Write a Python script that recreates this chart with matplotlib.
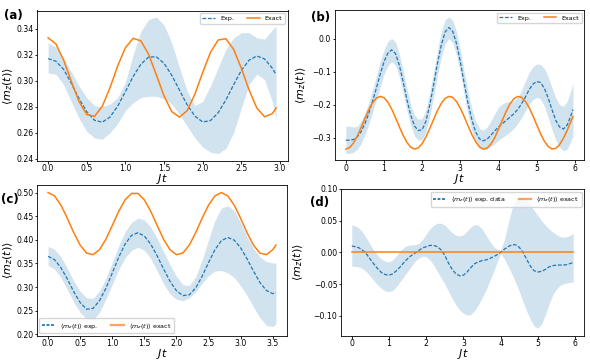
import numpy as np
import matplotlib
matplotlib.use("Agg")
import matplotlib.pyplot as plt

# ---------------- panel (a) ----------------
t_a = [0.0, 0.1, 0.2, 0.3, 0.4, 0.5, 0.6, 0.7, 0.8, 0.9, 1.0, 1.1, 1.2, 1.3, 1.4,
       1.5, 1.6, 1.7, 1.8, 1.9, 2.0, 2.1, 2.2, 2.3, 2.4, 2.5, 2.6, 2.7, 2.8, 2.9, 2.95]
exact_a = [0.3330, 0.3284, 0.3160, 0.2995, 0.2840, 0.2740, 0.2726, 0.2802, 0.2945, 0.3113,
           0.3254, 0.3326, 0.3307, 0.3204, 0.3046, 0.2883, 0.2762, 0.2720, 0.2770, 0.2898,
           0.3063, 0.3217, 0.3313, 0.3323, 0.3242, 0.3096, 0.2929, 0.2791, 0.2723, 0.2746, 0.2791]
exp_a = [0.3170, 0.3150, 0.3088, 0.2981, 0.2863, 0.2762, 0.2696, 0.2681, 0.2720, 0.2804,
         0.2916, 0.3032, 0.3127, 0.3182, 0.3184, 0.3134, 0.3042, 0.2927, 0.2814, 0.2727,
         0.2683, 0.2693, 0.2753, 0.2852, 0.2969, 0.3079, 0.3158, 0.3190, 0.3168, 0.3097, 0.3047]
up_a = [0.329, 0.326, 0.317, 0.307, 0.296, 0.287, 0.281, 0.280, 0.282, 0.287,
        0.299, 0.320, 0.338, 0.347, 0.349, 0.343, 0.329, 0.310, 0.292, 0.281,
        0.284, 0.296, 0.310, 0.324, 0.333, 0.337, 0.337, 0.333, 0.332, 0.339, 0.342]
low_a = [0.306, 0.305, 0.297, 0.284, 0.271, 0.261, 0.256, 0.255, 0.260, 0.267,
         0.277, 0.283, 0.287, 0.288, 0.288, 0.286, 0.282, 0.274, 0.265, 0.256,
         0.249, 0.245, 0.244, 0.248, 0.260, 0.279, 0.297, 0.305, 0.301, 0.284, 0.271]

# ---------------- panel (b) ----------------
t_b = [0.0, 0.1, 0.2, 0.3, 0.4, 0.5, 0.6, 0.7, 0.8, 0.9, 1.0, 1.1, 1.2, 1.3, 1.4,
       1.5, 1.6, 1.7, 1.8, 1.9, 2.0, 2.1, 2.2, 2.3, 2.4, 2.5, 2.6, 2.7, 2.8, 2.9,
       3.0, 3.1, 3.2, 3.3, 3.4, 3.5, 3.6, 3.7, 3.8, 3.9, 4.0, 4.1, 4.2, 4.3, 4.4,
       4.5, 4.6, 4.7, 4.8, 4.9, 5.0, 5.1, 5.2, 5.3, 5.4, 5.5, 5.6, 5.7, 5.8, 5.9, 5.95]
exact_b = [-0.3350, -0.3302, -0.3165, -0.2954, -0.2695, -0.2419, -0.2158, -0.1944, -0.1803, -0.1750,
           -0.1793, -0.1927, -0.2134, -0.2392, -0.2668, -0.2930, -0.3147, -0.3292, -0.3349, -0.3312,
           -0.3182, -0.2977, -0.2722, -0.2446, -0.2182, -0.1963, -0.1813, -0.1751, -0.1784, -0.1909,
           -0.2111, -0.2364, -0.2640, -0.2905, -0.3128, -0.3282, -0.3348, -0.3320, -0.3199, -0.3001,
           -0.2749, -0.2473, -0.2207, -0.1982, -0.1824, -0.1753, -0.1777, -0.1893, -0.2088, -0.2338,
           -0.2612, -0.2880, -0.3108, -0.3270, -0.3346, -0.3327, -0.3215, -0.3024, -0.2776, -0.2501, -0.2364]
exp_b = [-0.308, -0.308, -0.306, -0.298, -0.282, -0.258, -0.227, -0.190, -0.150, -0.108,
         -0.070, -0.044, -0.034, -0.045, -0.080, -0.130, -0.185, -0.232, -0.265, -0.279,
         -0.276, -0.250, -0.200, -0.140, -0.075, -0.020, 0.020, 0.034, 0.022, -0.015,
         -0.070, -0.135, -0.195, -0.245, -0.283, -0.304, -0.310, -0.305, -0.293, -0.280,
         -0.268, -0.258, -0.248, -0.238, -0.228, -0.215, -0.198, -0.178, -0.155, -0.138,
         -0.130, -0.133, -0.150, -0.180, -0.215, -0.248, -0.268, -0.274, -0.262, -0.232, -0.215]
up_b = [-0.265, -0.266, -0.268, -0.266, -0.250, -0.226, -0.195, -0.155, -0.113, -0.070,
        -0.034, -0.008, 0.001, -0.010, -0.046, -0.096, -0.152, -0.200, -0.232, -0.245,
        -0.242, -0.215, -0.162, -0.100, -0.035, 0.020, 0.058, 0.066, 0.056, 0.020,
        -0.035, -0.100, -0.160, -0.212, -0.250, -0.272, -0.278, -0.268, -0.250, -0.228,
        -0.208, -0.198, -0.192, -0.190, -0.188, -0.178, -0.158, -0.130, -0.103, -0.085,
        -0.077, -0.078, -0.090, -0.115, -0.148, -0.180, -0.200, -0.205, -0.190, -0.155, -0.135]
low_b = [-0.348, -0.348, -0.345, -0.335, -0.318, -0.292, -0.260, -0.224, -0.186, -0.146,
         -0.108, -0.082, -0.070, -0.080, -0.115, -0.165, -0.218, -0.264, -0.296, -0.308,
         -0.306, -0.283, -0.235, -0.176, -0.112, -0.056, -0.015, 0.000, -0.012, -0.050,
         -0.105, -0.170, -0.230, -0.280, -0.315, -0.333, -0.338, -0.335, -0.328, -0.318,
         -0.308, -0.300, -0.292, -0.283, -0.272, -0.258, -0.240, -0.220, -0.200, -0.185,
         -0.178, -0.183, -0.205, -0.240, -0.275, -0.308, -0.330, -0.340, -0.335, -0.310, -0.295]

# ---------------- panel (c) ----------------
t_c = [0.0, 0.1, 0.2, 0.3, 0.4, 0.5, 0.6, 0.7, 0.8, 0.9, 1.0, 1.1, 1.2, 1.3, 1.4,
       1.5, 1.6, 1.7, 1.8, 1.9, 2.0, 2.1, 2.2, 2.3, 2.4, 2.5, 2.6, 2.7, 2.8, 2.9,
       3.0, 3.1, 3.2, 3.3, 3.4, 3.5, 3.55]
exact_c = [0.5000, 0.4930, 0.4734, 0.4455, 0.4151, 0.3887, 0.3720, 0.3685, 0.3789, 0.4010,
           0.4302, 0.4601, 0.4846, 0.4982, 0.4982, 0.4846, 0.4601, 0.4302, 0.4010, 0.3789,
           0.3685, 0.3720, 0.3887, 0.4151, 0.4455, 0.4734, 0.4930, 0.5000, 0.4930, 0.4734,
           0.4455, 0.4151, 0.3887, 0.3720, 0.3685, 0.3789, 0.3888]
exp_c = [0.365, 0.358, 0.341, 0.317, 0.290, 0.267, 0.253, 0.2548, 0.2708, 0.2972,
         0.3298, 0.3629, 0.3911, 0.4094, 0.4150, 0.4080, 0.3907, 0.3660, 0.3382, 0.3121,
         0.2922, 0.2819, 0.2835, 0.2981, 0.3227, 0.3518, 0.3790, 0.3981, 0.4050, 0.3993,
         0.3831, 0.3598, 0.3337, 0.3098, 0.2929, 0.2860, 0.2880]
up_c = [0.386, 0.380, 0.364, 0.340, 0.313, 0.291, 0.277, 0.276, 0.291, 0.318,
        0.352, 0.387, 0.417, 0.437, 0.446, 0.442, 0.427, 0.403, 0.375, 0.347,
        0.323, 0.305, 0.303, 0.322, 0.357, 0.400, 0.441, 0.467, 0.472, 0.462,
        0.437, 0.407, 0.382, 0.364, 0.354, 0.351, 0.351]
low_c = [0.346, 0.338, 0.320, 0.295, 0.268, 0.246, 0.232, 0.230, 0.246, 0.274,
         0.306, 0.337, 0.362, 0.378, 0.384, 0.378, 0.360, 0.334, 0.307, 0.285,
         0.274, 0.271, 0.277, 0.290, 0.308, 0.324, 0.334, 0.335, 0.330, 0.320,
         0.303, 0.282, 0.258, 0.235, 0.219, 0.216, 0.222]

# ---------------- panel (d) ----------------
t_d = t_b
exact_d = [0.0] * len(t_d)
exp_d = [0.010, 0.009, 0.007, 0.003, -0.003, -0.011, -0.019, -0.026, -0.032, -0.035,
         -0.036, -0.034, -0.029, -0.023, -0.016, -0.010, -0.005, -0.001, 0.003, 0.007,
         0.009, 0.011, 0.011, 0.009, 0.004, -0.005, -0.017, -0.027, -0.034, -0.037,
         -0.036, -0.031, -0.024, -0.018, -0.015, -0.013, -0.012, -0.010, -0.007, -0.004,
         0.000, 0.005, 0.009, 0.012, 0.012, 0.008, 0.000, -0.011, -0.022, -0.029,
         -0.031, -0.030, -0.027, -0.023, -0.021, -0.020, -0.020, -0.020, -0.019, -0.017, -0.016]
up_d = [0.043, 0.042, 0.038, 0.031, 0.022, 0.012, 0.003, -0.005, -0.011, -0.014,
        -0.015, -0.012, -0.005, 0.002, 0.008, 0.011, 0.012, 0.012, 0.014, 0.020,
        0.029, 0.037, 0.043, 0.046, 0.046, 0.043, 0.037, 0.031, 0.027, 0.026,
        0.028, 0.034, 0.040, 0.044, 0.043, 0.037, 0.028, 0.018, 0.010, 0.005,
        0.004, 0.020, 0.045, 0.068, 0.082, 0.088, 0.088, 0.083, 0.075, 0.066,
        0.058, 0.050, 0.043, 0.037, 0.032, 0.028, 0.025, 0.024, 0.025, 0.028, 0.030]
low_d = [-0.022, -0.022, -0.023, -0.026, -0.031, -0.038, -0.045, -0.052, -0.057, -0.061,
         -0.062, -0.060, -0.054, -0.046, -0.038, -0.030, -0.022, -0.014, -0.009, -0.006,
         -0.007, -0.012, -0.020, -0.030, -0.040, -0.050, -0.062, -0.073, -0.083, -0.091,
         -0.096, -0.099, -0.098, -0.092, -0.083, -0.072, -0.060, -0.046, -0.032, -0.016,
         -0.002, -0.010, -0.022, -0.034, -0.047, -0.062, -0.078, -0.093, -0.106, -0.116,
         -0.120, -0.113, -0.099, -0.082, -0.067, -0.058, -0.052, -0.049, -0.048, -0.047, -0.047]

W, H = 590, 361
fig = plt.figure(figsize=(W / 100, H / 100), dpi=100)


def make_ax(left, top, right, bottom):
    ax = fig.add_axes([left / W, 1 - bottom / H, (right - left) / W, (bottom - top) / H])
    ax.tick_params(labelsize=5.6, length=1.8, width=0.6, pad=0.6)
    for s in ax.spines.values():
        s.set_linewidth(0.6)
    return ax


def draw(ax, t, up, low, mean, exact, lab_exp, lab_exact, ylab_x):
    ax.fill_between(t, low, up, color='C0', alpha=0.2, linewidth=0)
    ax.plot(t, mean, color='C0', lw=0.9, ls=(0, (3.0, 1.4)), label=lab_exp)
    ax.plot(t, exact, '-', color='C1', lw=1.1, label=lab_exact)
    ax.set_xlabel(r'$Jt$', fontsize=8, labelpad=-0.5)
    ax.set_ylabel(r'$\langle m_z(t)\rangle$', fontsize=8)
    ax.yaxis.set_label_coords(ylab_x, 0.5)


leg_kw = dict(ncol=2, fontsize=4.6, borderaxespad=0.4, handlelength=2.0,
              columnspacing=2.0, fancybox=True)

ax_a = make_ax(36.7, 10.5, 287.5, 160.7)
draw(ax_a, t_a, up_a, low_a, exp_a, exact_a, 'Exp.', 'Exact', -0.085)
ax_a.set_ylim(0.2385, 0.354)
ax_a.set_yticks([0.24, 0.26, 0.28, 0.30, 0.32, 0.34])
ax_a.set_xticks([0.0, 0.5, 1.0, 1.5, 2.0, 2.5, 3.0])
ax_a.legend(loc='upper right', **leg_kw)

ax_b = make_ax(334.5, 10, 584.3, 160.3)
draw(ax_b, t_b, up_b, low_b, exp_b, exact_b, 'Exp.', 'Exact', -0.108)
ax_b.set_ylim(-0.369, 0.087)
ax_b.set_yticks([-0.3, -0.2, -0.1, 0.0])
ax_b.set_xticks([0, 1, 2, 3, 4, 5, 6])
ax_b.legend(loc='upper right', **leg_kw)

ax_c = make_ax(36.7, 185, 287.3, 335.7)
draw(ax_c, t_c, up_c, low_c, exp_c, exact_c,
     r'$\langle m_z(t)\rangle$ exp.', r'$\langle m_z(t)\rangle$ exact', -0.085)
ax_c.set_ylim(0.197, 0.516)
ax_c.set_yticks([0.20, 0.25, 0.30, 0.35, 0.40, 0.45, 0.50])
ax_c.set_xticks([0.0, 0.5, 1.0, 1.5, 2.0, 2.5, 3.0, 3.5])
leg_c = ax_c.legend(loc='lower left', **leg_kw)

ax_d = make_ax(340.7, 189, 584.3, 335.7)
draw(ax_d, t_d, up_d, low_d, exp_d, exact_d,
     r'$\langle m_z(t)\rangle$ exp. data', r'$\langle m_z(t)\rangle$ exact', -0.145)
ax_d.set_ylim(-0.1315, 0.10)
ax_d.set_yticks([-0.10, -0.05, 0.00, 0.05, 0.10])
ax_d.set_xticks([0, 1, 2, 3, 4, 5, 6])
leg_d = ax_d.legend(loc='upper right', **leg_kw)

# thicker handles in the lower legends, dashes kept short
for leg in (leg_c, leg_d):
    dashed, solid = leg.get_lines()
    dashed.set_linewidth(1.3)
    dashed.set_linestyle((0, (1.6, 0.9)))
    solid.set_linewidth(1.6)
    solid.set_alpha(0.7)

fig.text(13.5 / W, 1 - 15 / H, '(a)', fontsize=8.5, fontweight='bold', ha='center', va='center')
fig.text(321 / W, 1 - 17 / H, '(b)', fontsize=8.5, fontweight='bold', ha='center', va='center')
fig.text(9.5 / W, 1 - 200 / H, '(c)', fontsize=8.5, fontweight='bold', ha='center', va='center')
fig.text(319.5 / W, 1 - 202.5 / H, '(d)', fontsize=8.5, fontweight='bold', ha='center', va='center')

fig.savefig('out.png', dpi=100)
